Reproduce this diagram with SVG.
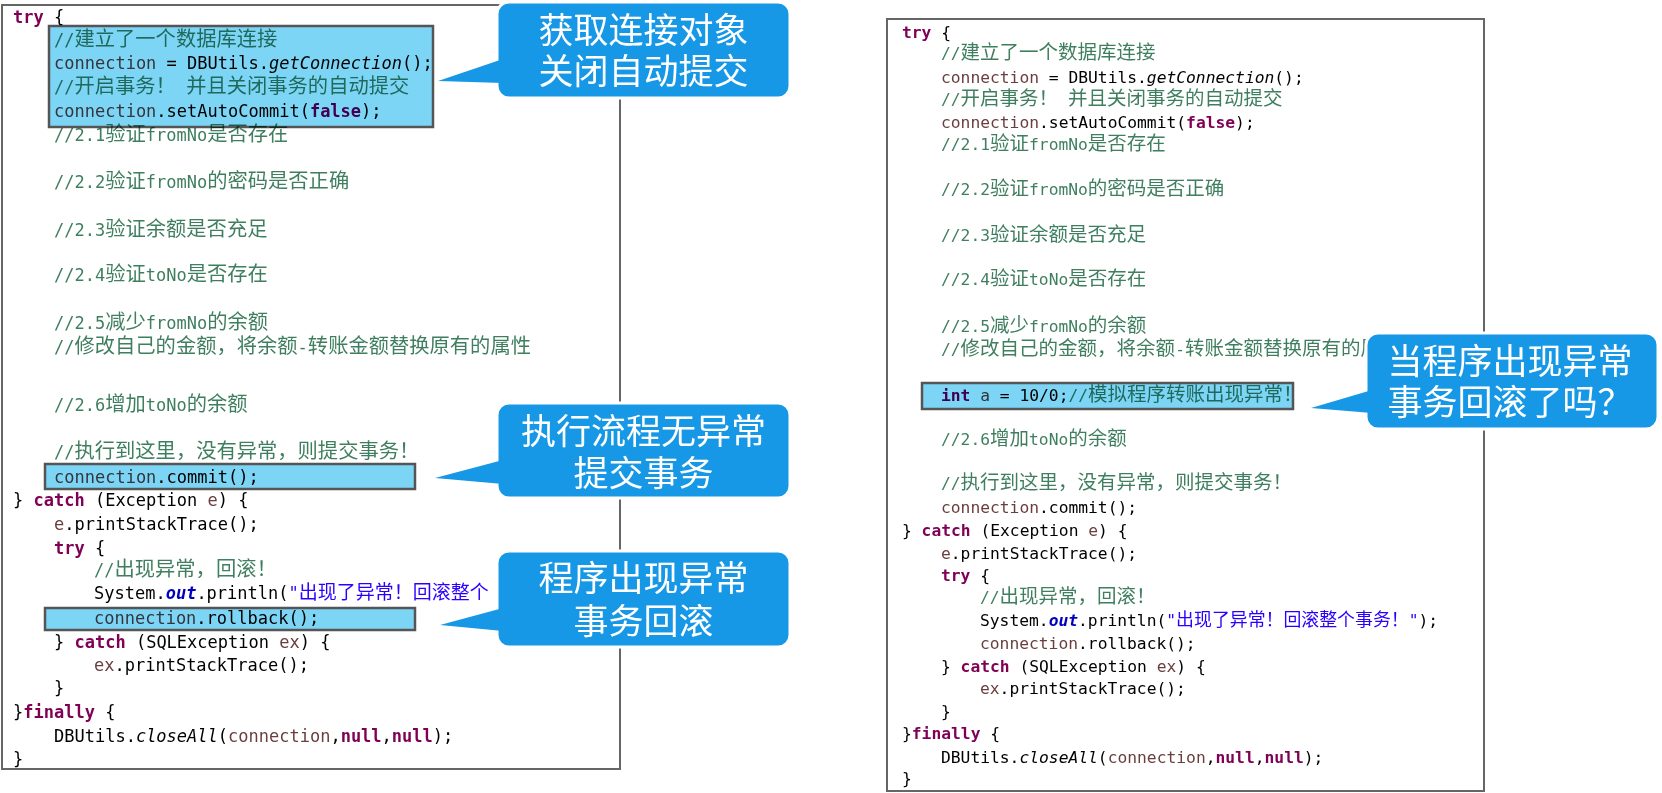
<svg xmlns="http://www.w3.org/2000/svg" width="1662" height="793" viewBox="0 0 1662 793">
<style>
.bg{fill:#fff}
.panel{fill:none;stroke:#666;stroke-width:2}
.hl{fill:#7DD5F6;stroke:#555;stroke-width:2.5;mix-blend-mode:multiply}
.callout{fill:#1698E6;stroke:#fff;stroke-width:3}
.ptr{fill:#1698E6}
.ct{fill:#fff;font-family:"Noto Sans CJK SC",sans-serif;font-size:35px;text-anchor:middle}
.code{font-family:"DejaVu Sans Mono","Liberation Mono",monospace;fill:#000}
.L{font-size:17px}
.R{font-size:16.3px}
.cL{font-family:"Noto Sans CJK SC",sans-serif;font-size:20.3px}
.cR{font-family:"Noto Sans CJK SC",sans-serif;font-size:19.5px}
.sL{font-family:"Noto Sans CJK SC",sans-serif;font-size:19px}
.sR{font-family:"Noto Sans CJK SC",sans-serif;font-size:17.9px}
.kw{fill:#7F0055;font-weight:bold}
.cm{fill:#3F7F5F}
.v{fill:#6A3E3E}
.s{fill:#2A00FF}
.f{fill:#0000C0;font-weight:bold;font-style:italic}
.it{font-style:italic}
</style>
<rect class="bg" x="0" y="0" width="1662" height="793"/>

<g id="left-code">
<rect class="panel" x="2" y="5" width="618" height="764"/>
<g class="code L">
<text x="13" y="23"><tspan class="kw">try</tspan> {</text>
<text x="54" y="46" class="cm">//<tspan class="cL">建立了一个数据库连接</tspan></text>
<text x="54" y="69"><tspan class="v">connection</tspan> = DBUtils.<tspan class="it">getConnection</tspan>();</text>
<text x="54" y="93" class="cm">//<tspan class="cL">开启事务！</tspan> <tspan class="cL">并且关闭事务的自动提交</tspan></text>
<text x="54" y="117"><tspan class="v">connection</tspan>.setAutoCommit(<tspan class="kw">false</tspan>);</text>
<text x="54" y="141" class="cm">//2.1<tspan class="cL">验证</tspan>fromNo<tspan class="cL">是否存在</tspan></text>
<text x="54" y="188" class="cm">//2.2<tspan class="cL">验证</tspan>fromNo<tspan class="cL">的密码是否正确</tspan></text>
<text x="54" y="236" class="cm">//2.3<tspan class="cL">验证余额是否充足</tspan></text>
<text x="54" y="281" class="cm">//2.4<tspan class="cL">验证</tspan>toNo<tspan class="cL">是否存在</tspan></text>
<text x="54" y="329" class="cm">//2.5<tspan class="cL">减少</tspan>fromNo<tspan class="cL">的余额</tspan></text>
<text x="54" y="353" class="cm">//<tspan class="cL">修改自己的金额，将余额</tspan>-<tspan class="cL">转账金额替换原有的属性</tspan></text>
<text x="54" y="411" class="cm">//2.6<tspan class="cL">增加</tspan>toNo<tspan class="cL">的余额</tspan></text>
<text x="54" y="458" class="cm">//<tspan class="cL">执行到这里，没有异常，则提交事务！</tspan></text>
<text x="54" y="483"><tspan class="v">connection</tspan>.commit();</text>
<text x="13" y="506">} <tspan class="kw">catch</tspan> (Exception <tspan class="v">e</tspan>) {</text>
<text x="54" y="530"><tspan class="v">e</tspan>.printStackTrace();</text>
<text x="54" y="554"><tspan class="kw">try</tspan> {</text>
<text x="94" y="576" class="cm">//<tspan class="cL">出现异常，回滚！</tspan></text>
<text x="94" y="599">System.<tspan class="f">out</tspan>.println(<tspan class="s">"<tspan class="sL">出现了异常！回滚整个</tspan></tspan></text>
<text x="94" y="624"><tspan class="v">connection</tspan>.rollback();</text>
<text x="54" y="648">} <tspan class="kw">catch</tspan> (SQLException <tspan class="v">ex</tspan>) {</text>
<text x="94" y="671"><tspan class="v">ex</tspan>.printStackTrace();</text>
<text x="54" y="694">}</text>
<text x="13" y="718">}<tspan class="kw">finally</tspan> {</text>
<text x="54" y="742">DBUtils.<tspan class="it">closeAll</tspan>(<tspan class="v">connection</tspan>,<tspan class="kw">null</tspan>,<tspan class="kw">null</tspan>);</text>
<text x="13" y="765">}</text>
</g>
</g>

<g id="right-code">
<rect class="panel" x="887" y="19" width="597" height="772"/>
<g class="code R">
<text x="902" y="37.5"><tspan class="kw">try</tspan> {</text>
<text x="941" y="58.5" class="cm">//<tspan class="cR">建立了一个数据库连接</tspan></text>
<text x="941" y="82.5"><tspan class="v">connection</tspan> = DBUtils.<tspan class="it">getConnection</tspan>();</text>
<text x="941" y="104.5" class="cm">//<tspan class="cR">开启事务！</tspan> <tspan class="cR">并且关闭事务的自动提交</tspan></text>
<text x="941" y="127.5"><tspan class="v">connection</tspan>.setAutoCommit(<tspan class="kw">false</tspan>);</text>
<text x="941" y="149.5" class="cm">//2.1<tspan class="cR">验证</tspan>fromNo<tspan class="cR">是否存在</tspan></text>
<text x="941" y="194.5" class="cm">//2.2<tspan class="cR">验证</tspan>fromNo<tspan class="cR">的密码是否正确</tspan></text>
<text x="941" y="240.5" class="cm">//2.3<tspan class="cR">验证余额是否充足</tspan></text>
<text x="941" y="284.5" class="cm">//2.4<tspan class="cR">验证</tspan>toNo<tspan class="cR">是否存在</tspan></text>
<text x="941" y="331.5" class="cm">//2.5<tspan class="cR">减少</tspan>fromNo<tspan class="cR">的余额</tspan></text>
<text x="941" y="354.5" class="cm">//<tspan class="cR">修改自己的金额，将余额</tspan>-<tspan class="cR">转账金额替换原有的属</tspan></text>
<text x="941" y="400.5"><tspan class="kw">int</tspan> <tspan class="v">a</tspan> = 10/0;<tspan class="cm">//<tspan class="cR">模拟程序转账出现异常！</tspan></tspan></text>
<text x="941" y="444.5" class="cm">//2.6<tspan class="cR">增加</tspan>toNo<tspan class="cR">的余额</tspan></text>
<text x="941" y="488.5" class="cm">//<tspan class="cR">执行到这里，没有异常，则提交事务！</tspan></text>
<text x="941" y="512.5"><tspan class="v">connection</tspan>.commit();</text>
<text x="902" y="535.5">} <tspan class="kw">catch</tspan> (Exception <tspan class="v">e</tspan>) {</text>
<text x="941" y="558.5"><tspan class="v">e</tspan>.printStackTrace();</text>
<text x="941" y="580.5"><tspan class="kw">try</tspan> {</text>
<text x="980" y="603" class="cm">//<tspan class="cR">出现异常，回滚！</tspan></text>
<text x="980" y="625.5">System.<tspan class="f">out</tspan>.println(<tspan class="s">"<tspan class="sR">出现了异常！回滚整个事务！</tspan>"</tspan>);</text>
<text x="980" y="648.5"><tspan class="v">connection</tspan>.rollback();</text>
<text x="941" y="672">} <tspan class="kw">catch</tspan> (SQLException <tspan class="v">ex</tspan>) {</text>
<text x="980" y="693.5"><tspan class="v">ex</tspan>.printStackTrace();</text>
<text x="941" y="717">}</text>
<text x="902" y="739">}<tspan class="kw">finally</tspan> {</text>
<text x="941" y="762.5">DBUtils.<tspan class="it">closeAll</tspan>(<tspan class="v">connection</tspan>,<tspan class="kw">null</tspan>,<tspan class="kw">null</tspan>);</text>
<text x="902" y="783.5">}</text>
</g>
</g>

<g id="hl-autocommit"><rect class="hl" x="49" y="26" width="384" height="101"/></g>
<g id="hl-commit"><rect class="hl" x="45" y="464" width="370" height="25"/></g>
<g id="hl-rollback"><rect class="hl" x="45" y="608" width="370" height="22"/></g>
<g id="hl-exception"><rect class="hl" x="922" y="383" width="371" height="26"/></g>

<g id="callout-connection">
<rect class="callout" x="497" y="2" width="293" height="96" rx="12"/>
<text class="ct" x="643.5" y="43">获取连接对象</text>
<text class="ct" x="643.5" y="84">关闭自动提交</text>
</g>
<g id="callout-commit">
<rect class="callout" x="497" y="403" width="293" height="95" rx="12"/>
<text class="ct" x="643.5" y="444">执行流程无异常</text>
<text class="ct" x="643.5" y="486">提交事务</text>
</g>
<g id="callout-rollback">
<rect class="callout" x="497" y="551" width="293" height="96" rx="12"/>
<text class="ct" x="643.5" y="591">程序出现异常</text>
<text class="ct" x="643.5" y="634">事务回滚</text>
</g>
<g id="callout-question">
<rect class="callout" x="1366" y="333" width="292" height="96" rx="12"/>
<text class="ct" x="1510" y="374">当程序出现异常</text>
<text class="ct" x="1510" y="415">事务回滚了吗？</text>
</g>

<g id="connectors">
<polygon class="ptr" points="503,59 438,81 503,83"/>
<polygon class="ptr" points="503,460 435,478 503,484"/>
<polygon class="ptr" points="503,608 440,625 503,631"/>
<polygon class="ptr" points="1372,390 1311,408 1372,413"/>
</g>
</svg>
